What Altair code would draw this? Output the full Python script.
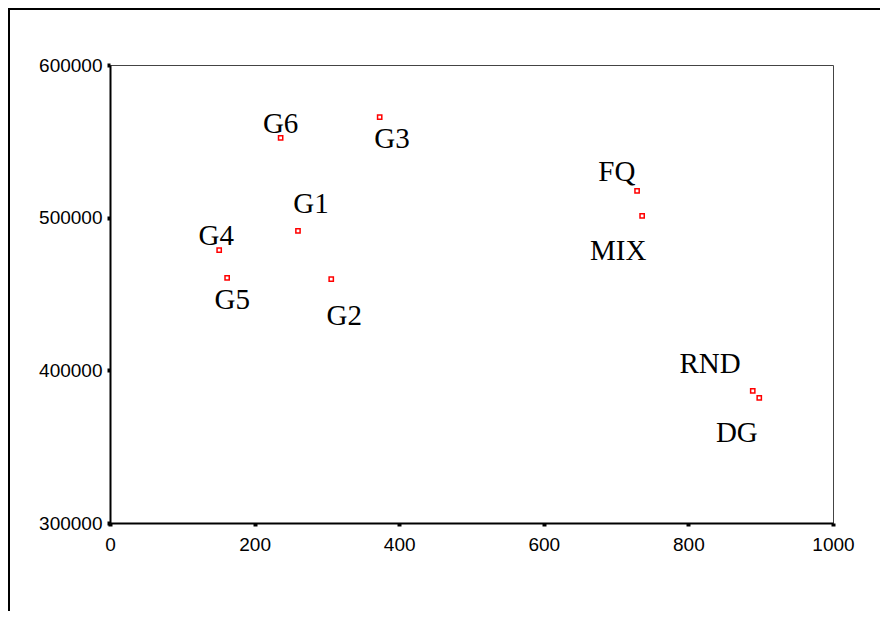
import altair as alt
import pandas as pd

names = ["G6", "G3", "G1", "G4", "G5", "G2", "FQ", "MIX", "RND", "DG"]
x_vals = [236, 373, 260, 151, 162, 306, 729, 736, 889, 898]
y_vals = [552200, 565900, 491300, 478800, 460500, 459800, 517500, 501100, 386500, 381900]
# label anchor positions (data units)
label_x = [236, 390, 278, 147, 169, 324, 701, 703, 830, 867]
label_y = [561400, 551500, 509000, 488000, 446100, 435600, 529900, 478200, 404200, 359000]

x_ticks = [0, 200, 400, 600, 800, 1000]
y_ticks = [300000, 400000, 500000, 600000]

df = pd.DataFrame({"name": names, "x": x_vals, "y": y_vals, "lx": label_x, "ly": label_y})

xs = alt.Scale(domain=[0, 1000], nice=False, zero=False)
ys = alt.Scale(domain=[300000, 600000], nice=False, zero=False)

xaxis = alt.Axis(values=x_ticks, grid=False, title=None, domainColor="black", domainWidth=2,
                 tickColor="black", tickSize=3, tickWidth=4, labelFont="Liberation Sans",
                 labelFontSize=19, labelColor="black", labelPadding=9, labelFlush=False,
                 format="d")
yaxis = alt.Axis(values=y_ticks, grid=False, title=None, domainColor="black", domainWidth=2,
                 tickColor="black", tickSize=3, tickWidth=4, labelFont="Liberation Sans",
                 labelFontSize=19, labelColor="black", labelPadding=5, labelFlush=False,
                 format="d")

frame = alt.Chart(df).mark_rect(fill=None, stroke="black", strokeWidth=2, clip=False).encode(
    x=alt.value(-101), y=alt.value(-56), x2=alt.value(1000), y2=alt.value(1000)
)

points = alt.Chart(df).mark_square(size=18, filled=False, color="red", strokeWidth=1.5, opacity=1).encode(
    x=alt.X("x:Q", scale=xs, axis=xaxis),
    y=alt.Y("y:Q", scale=ys, axis=yaxis),
)

labels = alt.Chart(df).mark_text(font="Liberation Serif", fontSize=29, color="black",
                                 align="center", baseline="middle").encode(
    x=alt.X("lx:Q", scale=xs),
    y=alt.Y("ly:Q", scale=ys),
    text="name:N",
)

chart = alt.layer(frame, points, labels).properties(
    width=723, height=458,
    autosize=alt.AutoSizeParams(type="none"),
    padding={"left": 102, "top": 57, "right": 47, "bottom": 88},
    background="white",
).configure_view(stroke="#444", strokeWidth=1)

chart.save("out.html", embed_options={"renderer": "svg", "actions": False})
